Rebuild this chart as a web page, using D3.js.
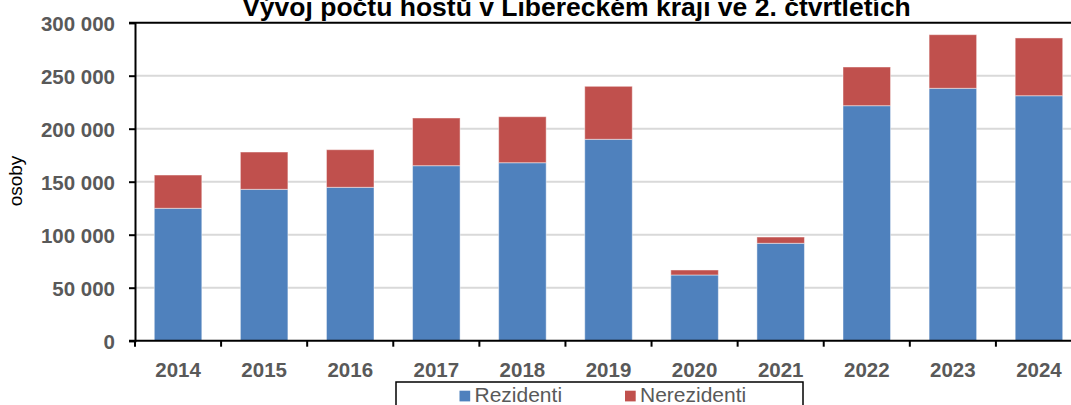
<!DOCTYPE html>
<html>
<head>
<meta charset="utf-8">
<script src="https://cdn.jsdelivr.net/npm/d3@7"></script>
<style>
  body { margin: 0; background: #fff; }
  svg { display: block; font-family: "Liberation Sans", Arial, sans-serif; }
</style>
</head>
<body>
<div id="chart"></div>
<script>
// data
var years = ["2014", "2015", "2016", "2017", "2018", "2019", "2020", "2021", "2022", "2023", "2024"];
var rezidenti = [124900, 142800, 144700, 165100, 167900, 190000, 62000, 91900, 221700, 238100, 231100];
var nerezidenti = [31400, 35200, 35500, 45000, 43400, 50000, 4700, 5900, 36500, 50600, 54500];
var yTicks = [0, 50000, 100000, 150000, 200000, 250000, 300000];
var seriesNames = ["Rezidenti", "Nerezidenti"];
var colors = ["#4F81BD", "#C0504D"];

var width = 1071, height = 405;
var plotLeft = 135, plotRight = 1082, plotTop = 22.7, plotBottom = 340.7;

var svg = d3.select("#chart").append("svg")
  .attr("width", width)
  .attr("height", height);

var x = d3.scaleBand().domain(years).range([plotLeft, plotRight]).padding(0);
var y = d3.scaleLinear().domain([0, 300000]).range([plotBottom, plotTop]);
var barW = x.bandwidth() * 0.552;

var fmt = function (d) {
  return d3.format(",")(d).replace(/,/g, " ");
};

// gridlines
svg.append("g").selectAll("line")
  .data(yTicks.slice(1, -1))
  .enter().append("line")
  .attr("x1", plotLeft).attr("x2", width)
  .attr("y1", function (d) { return y(d); })
  .attr("y2", function (d) { return y(d); })
  .attr("stroke", "#d9d9d9")
  .attr("stroke-width", 2);

// stacked bars
var rows = years.map(function (yr, i) {
  return { year: yr, Rezidenti: rezidenti[i], Nerezidenti: nerezidenti[i] };
});
var stack = d3.stack().keys(seriesNames)(rows);

svg.append("g").selectAll("g")
  .data(stack)
  .enter().append("g")
  .attr("fill", function (d, i) { return colors[i]; })
  .selectAll("rect")
  .data(function (d) { return d; })
  .enter().append("rect")
  .attr("x", function (d) { return x(d.data.year) + (x.bandwidth() - barW) / 2; })
  .attr("y", function (d) { return y(d[1]); })
  .attr("width", barW)
  .attr("height", function (d) { return y(d[0]) - y(d[1]); })
  .attr("stroke", "#ffffff")
  .attr("stroke-opacity", 0.45)
  .attr("stroke-width", 1);

// top frame line
svg.append("line")
  .attr("x1", plotLeft - 6).attr("x2", width)
  .attr("y1", plotTop).attr("y2", plotTop)
  .attr("stroke", "#000").attr("stroke-width", 2);

// y axis
var yAxis = svg.append("g")
  .attr("transform", "translate(" + plotLeft + ",0)")
  .call(d3.axisLeft(y).tickValues(yTicks).tickSize(6).tickPadding(14).tickFormat(fmt));
yAxis.select(".domain").attr("stroke", "#000").attr("stroke-width", 2);
yAxis.selectAll(".tick line").attr("stroke", "#000").attr("stroke-width", 2);
yAxis.selectAll("text")
  .attr("fill", "#595959")
  .style("font-size", "20.5px")
  .style("font-weight", "bold")
  .attr("dy", "0.36em");

// x axis
var xAxis = svg.append("g")
  .attr("transform", "translate(0," + plotBottom + ")")
  .call(d3.axisBottom(x).tickSize(0).tickPadding(22));
xAxis.select(".domain").attr("stroke", "#000").attr("stroke-width", 2).attr("d", "M" + (plotLeft - 6) + ",0H" + width);
xAxis.selectAll("text")
  .attr("fill", "#595959")
  .style("font-size", "20.5px")
  .style("font-weight", "bold");

// tick marks between categories
svg.append("g").selectAll("line")
  .data(years)
  .enter().append("line")
  .attr("x1", function (d) { return x(d); })
  .attr("x2", function (d) { return x(d); })
  .attr("y1", plotBottom).attr("y2", plotBottom + 6)
  .attr("stroke", "#000").attr("stroke-width", 2);

// title (cut at top edge like the reference)
svg.append("text")
  .attr("x", 576.5).attr("y", 15.5)
  .attr("text-anchor", "middle")
  .style("font-size", "26.5px")
  .style("font-weight", "bold")
  .attr("fill", "#000")
  .text("Vývoj počtu hostů v Libereckém kraji ve 2. čtvrtletích");

// y label
svg.append("text")
  .attr("transform", "translate(22,181) rotate(-90)")
  .attr("text-anchor", "middle")
  .style("font-size", "19px")
  .attr("fill", "#000")
  .text("osoby");

// legend
var legend = svg.append("g");
legend.append("rect")
  .attr("x", 396).attr("y", 382)
  .attr("width", 407).attr("height", 40)
  .attr("fill", "#fff").attr("stroke", "#000").attr("stroke-width", 1.5);

var legendX = [459.5, 625];
seriesNames.forEach(function (name, i) {
  legend.append("rect")
    .attr("x", legendX[i]).attr("y", 390.7)
    .attr("width", 10.7).attr("height", 10.7)
    .attr("fill", colors[i]);
  legend.append("text")
    .attr("x", legendX[i] + 15).attr("y", 401.5)
    .style("font-size", "21px")
    .attr("fill", "#595959")
    .text(name);
});
</script>
</body>
</html>
